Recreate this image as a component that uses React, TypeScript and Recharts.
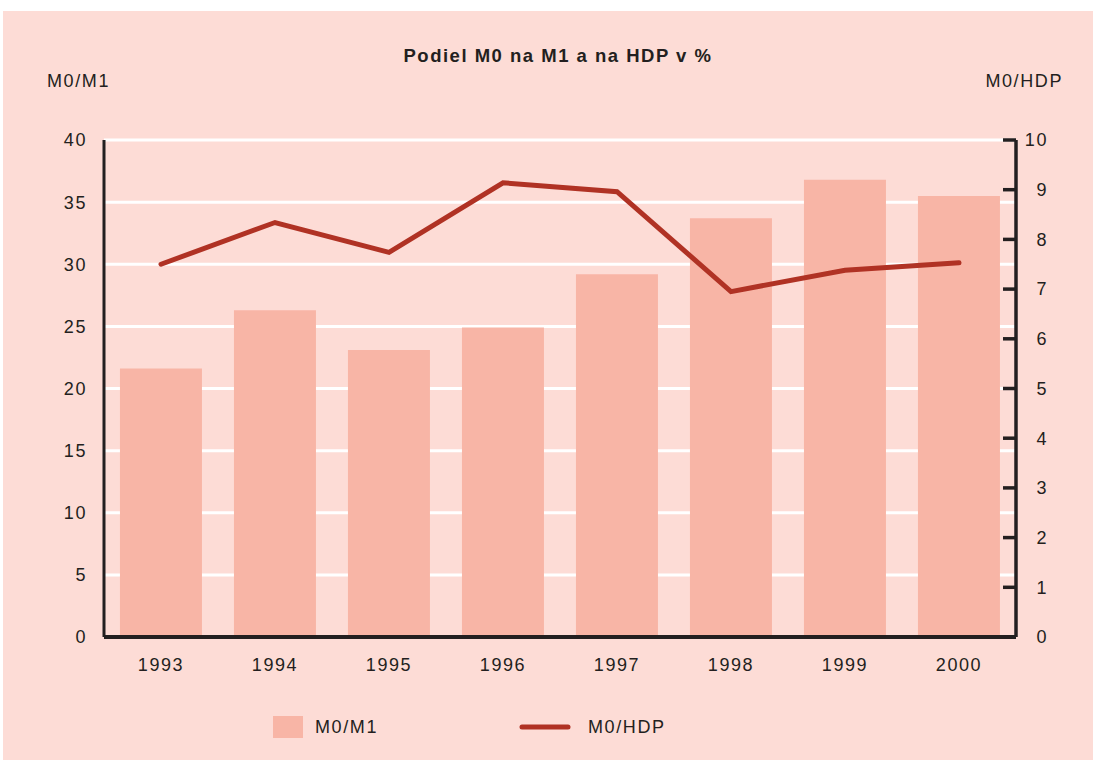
import { ComposedChart, Bar, Line, XAxis, YAxis, CartesianGrid } from "recharts";

// Podiel M0 na M1 a na HDP v %
const years = ["1993", "1994", "1995", "1996", "1997", "1998", "1999", "2000"];
const m0m1 = [21.6, 26.3, 23.1, 24.9, 29.2, 33.7, 36.8, 35.5];
const m0hdp = [7.5, 8.34, 7.74, 9.14, 8.96, 6.95, 7.38, 7.53];
const leftTicks = [0, 5, 10, 15, 20, 25, 30, 35, 40];
const rightTicks = [0, 1, 2, 3, 4, 5, 6, 7, 8, 9, 10];

const data = years.map((year, i) => ({ year, m0m1: m0m1[i], m0hdp: m0hdp[i] }));

const PANEL = "#FDDCD6";
const BAR = "#F8B5A6";
const LINE = "#B03224";
const INK = "#231F20";
const FONT = "'Liberation Sans', Arial, Helvetica, sans-serif";

const tickStyle = { fill: INK, fontSize: 18, fontFamily: FONT, letterSpacing: 1.6 };

function RightTick(props: any) {
  const { x, y, payload } = props;
  return (
    <text x={x + 11} y={y} dy="0.355em" textAnchor="end" {...tickStyle}>
      {payload.value}
    </text>
  );
}

export default function App() {
  return (
    <div style={{ position: "absolute", left: 0, top: 0, width: 1093, height: 760, background: "#fff" }}>
      <div style={{ position: "absolute", left: 3, top: 11, width: 1090, height: 749, background: PANEL }} />
      <div style={{ position: "absolute", left: 0, top: 0 }}>
        <ComposedChart
          width={1093}
          height={760}
          data={data}
          margin={{ top: 140, right: 17, bottom: 93, left: 44 }}
          barCategoryGap="14%"
        >
          <CartesianGrid yAxisId="left" vertical={false} stroke="#fff" strokeWidth={3} />
          <XAxis
            dataKey="year"
            height={30}
            tickLine={false}
            tickSize={0}
            tickMargin={21}
            axisLine={{ stroke: INK, strokeWidth: 4 }}
            tick={tickStyle}
            interval={0}
          />
          <YAxis
            yAxisId="left"
            width={60}
            domain={[0, 40]}
            ticks={leftTicks}
            interval={0}
            tickLine={false}
            tickSize={0}
            tickMargin={17}
            axisLine={{ stroke: INK, strokeWidth: 3 }}
            tick={tickStyle}
          />
          <YAxis
            yAxisId="right"
            orientation="right"
            width={60}
            domain={[0, 10]}
            ticks={rightTicks}
            interval={0}
            tickSize={-13}
            tickMargin={34}
            tickLine={{ stroke: INK, strokeWidth: 3.5 }}
            axisLine={{ stroke: INK, strokeWidth: 3.5 }}
            tick={<RightTick />}
          />
          <Bar yAxisId="left" dataKey="m0m1" name="M0/M1" fill={BAR} isAnimationActive={false} />
          <Line
            yAxisId="right"
            dataKey="m0hdp"
            name="M0/HDP"
            type="linear"
            stroke={LINE}
            strokeWidth={5}
            strokeLinecap="round"
            strokeLinejoin="miter"
            dot={false}
            activeDot={false}
            isAnimationActive={false}
          />
        </ComposedChart>
      </div>
      <svg
        width={1093}
        height={760}
        style={{ position: "absolute", left: 0, top: 0, pointerEvents: "none" }}
        fontFamily={FONT}
        fill={INK}
      >
        <text x={558} y={62} textAnchor="middle" fontSize={18.5} fontWeight={700} letterSpacing={1.5}>
          Podiel M0 na M1 a na HDP v %
        </text>
        <text x={47} y={87} fontSize={18} letterSpacing={1.6}>M0/M1</text>
        <text x={1063} y={87} textAnchor="end" fontSize={18} letterSpacing={1.6}>M0/HDP</text>
        <rect x={273} y={716} width={30} height={22} fill={BAR} />
        <text x={315} y={733} fontSize={18} letterSpacing={1.6}>M0/M1</text>
        <line x1={522} y1={727} x2={568} y2={727} stroke={LINE} strokeWidth={5} strokeLinecap="round" />
        <text x={588} y={733} fontSize={18} letterSpacing={1.6}>M0/HDP</text>
      </svg>
    </div>
  );
}
